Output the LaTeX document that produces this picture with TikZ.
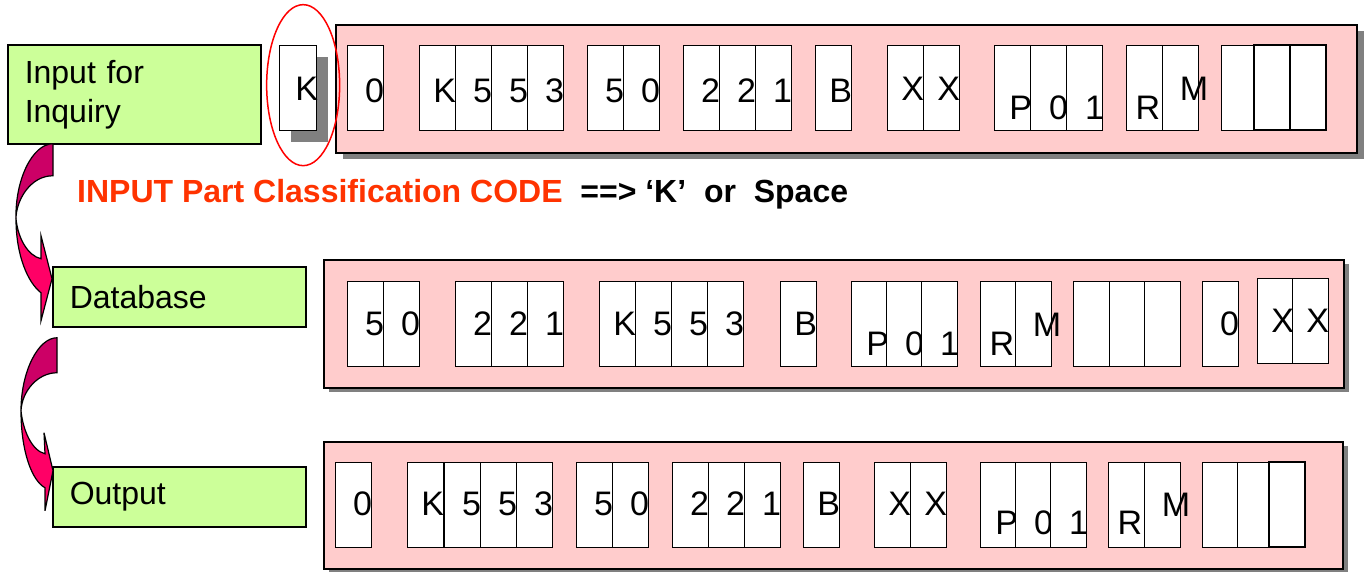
\documentclass[tikz,border=0pt]{standalone}
\usepackage{fontspec}
\setmainfont{Liberation Sans}
\usetikzlibrary{shapes.geometric,shadows}
\definecolor{lgreen}{HTML}{CCFF99}
\definecolor{lpink}{HTML}{FFCCCC}
\definecolor{shade}{HTML}{808080}
\definecolor{ttlred}{HTML}{FF3300}
\definecolor{arrdark}{HTML}{CC0066}
\definecolor{arrpink}{HTML}{FF0066}

\begin{document}
\begin{tikzpicture}[x=1pt,y=-1pt,
	gbox/.style={draw,fill=lgreen,line width=1.5pt,anchor=north west,minimum width=253pt,inner xsep=17pt,text width=219pt,align=left,font=\fontsize{32}{39}\selectfont},
	recbox/.style={draw,fill=lpink,line width=2pt,anchor=north west,inner sep=0},
	cell/.style={draw,fill=white,line width=1.3pt,anchor=north west,inner sep=0,minimum width=36pt,minimum height=85pt},
	thickcell/.style={cell,line width=2.2pt},
	glyph/.style={anchor=base east,inner sep=0,font=\fontsize{34}{40}\selectfont},
	bendshape/.style={draw,line width=1.2pt}]
		\useasboundingbox (0,0) rectangle (1366,571);
		\node[gbox,minimum height=99pt](inp) at (7,44) {Input for\\Inquiry};
		\node[gbox,minimum height=60pt](db) at (52,266) {Database};
		\node[gbox,minimum height=60pt](out) at (52,466) {Output};
		\node[anchor=base west,inner sep=0,font=\bfseries\fontsize{32}{38}\selectfont](title) at (77,202) {\textcolor{ttlred}{INPUT Part Classification CODE}\ \ ==> ‘K’\ \ or\ \ Space};
		\begin{scope}[shift={(db.west)}]
			\draw[bendshape,fill=arrdark] (1,-153) -- (1,-121) .. controls (-22,-121) and (-36,-96) .. (-36,-78) .. controls (-37,-116) and (-20,-153) .. (1,-153) -- cycle;
			\draw[bendshape,fill=arrpink] (-36,-78) .. controls (-34,-58) and (-24,-41) .. (-11,-38) -- (-11,-61) -- (0,-18) -- (-11,24) -- (-11,-4) .. controls (-24,-14) and (-36,-41) .. (-36,-78) -- cycle;
		\end{scope}
		\begin{scope}[shift={(out.west)}]
			\draw[bendshape,fill=arrdark] (5,-159) -- (5,-124) .. controls (-14,-124) and (-30,-106) .. (-31,-86) .. controls (-31,-125) and (-14,-159) .. (5,-159) -- cycle;
			\draw[bendshape,fill=arrpink] (-31,-86) .. controls (-29,-66) and (-20,-46) .. (-7,-43) -- (-8,-64) -- (1,-26) -- (-7,14) -- (-7,-9) .. controls (-20,-16) and (-31,-45) .. (-31,-86) -- cycle;
		\end{scope}
		\node[recbox,minimum width=1021pt,minimum height=128pt,drop shadow={shadow xshift=7pt,shadow yshift=-6pt,fill=shade,opacity=1}](rowa) at (335,24) {};
		\node[recbox,minimum width=1020pt,minimum height=128pt,drop shadow={shadow xshift=5pt,shadow yshift=-4pt,fill=shade,opacity=1}](rowb) at (323,259) {};
		\node[recbox,minimum width=1019pt,minimum height=127pt,drop shadow={shadow xshift=5pt,shadow yshift=-4pt,fill=shade,opacity=1}](rowc) at (323,441) {};
		\node[cell,minimum width=37pt,drop shadow={shadow xshift=11pt,shadow yshift=-11pt,fill=shade,opacity=1}](kin) at (279,45) {};
		\node[glyph](tkin) at ([xshift=1pt,yshift=-55pt]kin.north east) {K};
		\node[draw=red,line width=1.5pt,ellipse,minimum width=73pt,minimum height=161pt,inner sep=0](ring) at ([xshift=5pt,yshift=3pt]kin.center) {};
		\foreach \x/\c/\dx/\b [count=\i] in {347/0/0/57, 419/K/0/57, 455/5/0/57, 491/5/0/57, 527/3/0/57, 587/5/0/57, 623/0/0/57, 683/2/0/57, 719/2/0/57, 755/1/0/57, 815/B/0/57, 887/X/0/55, 923/X/0/55, 994/P/1/74, 1030/0/1/74, 1066/1/1/74, 1126/R/-3/74, 1162/M/9/55, 1221//0/57}{
			\node[cell](a\i) at (\x,45) {};
			\node[glyph](ta\i) at ([xshift=\dx pt,yshift=-\b pt]a\i.north east) {\c};
		}
		\node[thickcell](a20) at (1253,44) {};
		\node[thickcell](a21) at (1289,44) {};
		\foreach \x/\c/\dx/\b [count=\i] in {347/5/0/54, 383/0/0/54, 455/2/0/54, 491/2/0/54, 527/1/0/54, 599/K/0/54, 635/5/0/54, 671/5/0/54, 707/3/0/54, 780/B/0/54, 851/P/1/74, 886/0/1/74, 921/1/1/74, 980/R/-3/74, 1015/M/9/55, 1073//0/54, 1109//0/54, 1144//0/54, 1202/0/0/54, 1257/X/0/54, 1292/X/0/54}{
			\node[cell](b\i) at (\x,{\x>1250 ? 278 : 281}) {};
			\node[glyph](tb\i) at ([xshift=\dx pt,yshift=-\b pt]b\i.north east) {\c};
		}
		\foreach \x/\c/\dx/\b [count=\i] in {335/0/0/53, 407/K/0/53, 444/5/0/53, 480/5/0/53, 516/3/0/53, 576/5/0/53, 612/0/0/53, 672/2/0/53, 708/2/0/53, 744/1/0/53, 803/B/0/53, 874/X/0/53, 910/X/0/53, 980/P/1/72, 1015/0/1/72, 1050/1/1/72, 1108/R/-3/72, 1144/M/9/54, 1202//0/53, 1237//0/53}{
			\node[cell](c\i) at (\x,462) {};
			\node[glyph](tc\i) at ([xshift=\dx pt,yshift=-\b pt]c\i.north east) {\c};
		}
		\node[thickcell](c21) at (1268,461) {};
	\end{tikzpicture}
\end{document}
